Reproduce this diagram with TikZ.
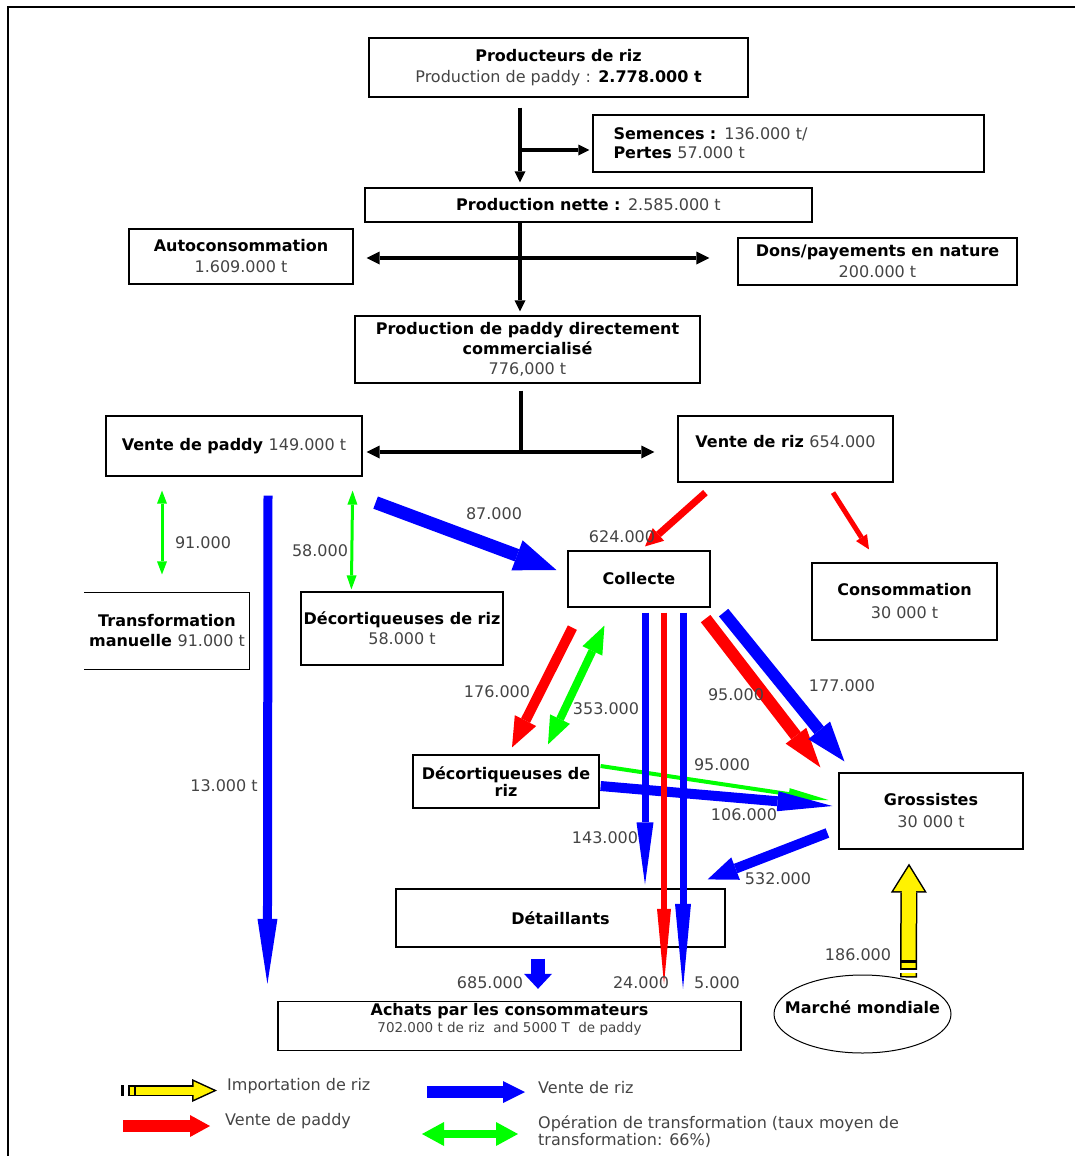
\documentclass[tikz,border=0pt]{standalone}
\usepackage{fontspec}
\setmainfont{DejaVu Sans}
\usetikzlibrary{arrows.meta,shapes.geometric,calc}
\definecolor{txtgray}{HTML}{444444}
\newcommand{\reg}[1]{{\mdseries\color{txtgray}#1}}
\tikzset{
  rbox/.style={draw, line width=1.2pt, align=center, inner sep=2pt,
    font=\fontsize{16}{21}\selectfont\bfseries},
  num/.style={text=txtgray, inner sep=0pt, font=\fontsize{16}{17}\selectfont},
  blk/.style={line width=3.5pt, ->, >={Triangle[length=11pt,width=11pt,line width=0pt]}},
  blk2/.style={line width=3.5pt, <->, >={Triangle[length=13pt,width=13pt,line width=0pt]}},
  flow/.style n args={3}{line width=#1, ->, >={Triangle[length=#2,width=#3,line width=0pt]}},
  twoway/.style n args={3}{line width=#1, <->, >={Triangle[length=#2,width=#3,line width=0pt]}},
  impout/.style n args={3}{draw=black, line width=#1, ->, >={Triangle[length=#2,width=#3,line width=0pt]}},
  impin/.style n args={3}{draw=yellow, line width=#1, ->, >={Triangle[length=#2,width=#3,line width=0pt]}},
}
\begin{document}
\begin{tikzpicture}[x=1pt,y=-1pt]
\useasboundingbox (0,0) rectangle (1075,1156);
\draw[line width=2pt] (8,1156) -- (8,7) -- (1075,7);

% boxes
\node[rbox, minimum width=379pt, minimum height=59pt] (prod) at (558.5,67.5)
  {Producteurs de riz\\\reg{Production de paddy :} 2.778.000 t};
\node[rbox, minimum width=391pt, minimum height=57pt, align=left, text width=350pt,
  font=\fontsize{16}{19}\selectfont\bfseries] (sem) at (788.5,143.5)
  {Semences : \reg{136.000 t/}\\Pertes \reg{57.000 t}};
\node[rbox, minimum width=447pt, minimum height=34pt] (pn) at (588.5,205)
  {Production nette : \reg{2.585.000 t}};
\node[rbox, minimum width=224pt, minimum height=55pt] (auto) at (241,256.5)
  {Autoconsommation\\\reg{1.609.000 t}};
\node[rbox, minimum width=279pt, minimum height=47pt] (dons) at (877.5,261.5)
  {Dons/payements en nature\\\reg{200.000 t}};
\node[rbox, minimum width=345pt, minimum height=67pt,
  font=\fontsize{16}{20}\selectfont\bfseries] (pdc) at (527.5,349.5)
  {Production de paddy directement\\commercialisé\\\reg{776,000 t}};
\node[rbox, minimum width=256pt, minimum height=60pt] (vp) at (234,446)
  {Vente de paddy \reg{149.000 t}};
\node[rbox, minimum width=215pt, minimum height=66pt, text depth=15pt] (vr) at (785.5,449)
  {Vente de riz \reg{654.000}};
\node[rbox, draw=none, minimum width=164pt, minimum height=76pt,
  font=\fontsize{16}{20}\selectfont\bfseries] (tm) at (167,631)
  {Transformation\\manuelle \reg{91.000 t}};
\draw[line width=1.2pt] (tm.north west) -- (tm.north east) -- (tm.south east) -- (tm.south west);
\node[rbox, minimum width=202pt, minimum height=73pt,
  font=\fontsize{16}{20}\selectfont\bfseries] (dec1) at (402,628.5)
  {Décortiqueuses de riz\\\reg{58.000 t}};
\node[rbox, minimum width=142pt, minimum height=56pt] (col) at (639,579) {Collecte};
\node[rbox, minimum width=185pt, minimum height=77pt,
  font=\fontsize{16}{23}\selectfont\bfseries] (cons) at (904.5,601.5)
  {Consommation\\\reg{30 000 t}};
\node[rbox, minimum width=186pt, minimum height=53pt,
  font=\fontsize{16}{17}\selectfont\bfseries] (dec2) at (506,781.5)
  {Décortiqueuses de\\riz};
\node[rbox, minimum width=184pt, minimum height=76pt,
  font=\fontsize{16}{22}\selectfont\bfseries] (gro) at (931,811)
  {Grossistes\\\reg{30 000 t}};
\node[rbox, minimum width=329pt, minimum height=58pt] (det) at (560.5,918) {Détaillants};
\node[rbox, minimum width=463pt, minimum height=48pt, text depth=16pt,
  font=\fontsize{16}{17}\selectfont\bfseries] (ach) at (509.5,1026)
  {Achats par les consommateurs\\{\fontsize{13.5}{17}\selectfont\reg{702.000 t de riz\ \ and 5000 T\ \ de paddy}}};
\node[draw, ellipse, line width=1pt, minimum width=177pt, minimum height=78pt,
  text depth=14pt, font=\fontsize{16}{17}\selectfont\bfseries] (mm) at (862.5,1014)
  {\makebox[0pt]{Marché mondiale}};

% black flows
\coordinate (j1) at (520,150);
\coordinate (j2) at (520,258);
\coordinate (j3) at (521,452);
\draw[blk, shorten <=10pt, shorten >=5pt] (j1 |- prod.south) -- (j1 |- pn.north);
\draw[blk, shorten >=3pt] (j1) -- (j1 -| sem.west);
\draw[blk, shorten >=4pt] (j2 |- pn.south) -- (j2 |- pdc.north);
\draw[blk2, shorten <=13pt, shorten >=28pt] (j2 -| auto.east) -- (j2 -| dons.west);
\draw[line width=3.5pt, shorten <=7pt] (j3 |- pdc.south) -- (j3);
\draw[blk2, shorten <=4pt, shorten >=23pt] (j3 -| vp.east) -- (j3 -| vr.west);

% transformation (green)
\draw[twoway={3pt}{13pt}{10pt}, green] ([xshift=-72pt,yshift=-14pt]vp.south) -- ([xshift=-5pt,yshift=18pt]tm.north);
\draw[twoway={3pt}{14pt}{10pt}, green] ([xshift=-10pt,yshift=-14pt]vp.south east) -- ([xshift=51pt,yshift=2pt]dec1.north west);
\draw[twoway={8pt}{28pt}{22pt}, green] ([xshift=37pt,yshift=-18pt]col.south west) -- ([xshift=42pt,yshift=10pt]dec2.north);
\draw[flow={4pt}{40pt}{12pt}, green] ([xshift=1pt,yshift=15.5pt]dec2.east) -- ([xshift=-10pt,yshift=11pt]gro.west);

% rice and paddy sales
\draw[flow={10pt}{55pt}{20pt}, blue] ([xshift=1pt,yshift=-4.5pt]dec2.east) -- ([xshift=-6pt,yshift=5pt]gro.west);
\draw[flow={9pt}{65pt}{20pt}, blue] ([xshift=34pt,yshift=-19pt]vp.south) -- ([xshift=-10pt,yshift=17pt]ach.north west);
\draw[flow={13pt}{42pt}{32pt}, blue] ([xshift=13pt,yshift=-26pt]vp.south east) -- ([xshift=-11pt,yshift=9pt]col.west);
\draw[flow={7pt}{18pt}{17pt}, red] ([xshift=28pt,yshift=-10pt]vr.south west) -- ([xshift=6pt,yshift=4pt]col.north);
\draw[flow={5pt}{14pt}{13pt}, red] ([xshift=47.5pt,yshift=-10pt]vr.south) -- ([xshift=-35.5pt,yshift=13pt]cons.north);
\draw[flow={10pt}{30pt}{24pt}, red] ([xshift=5pt,yshift=-20pt]col.south west) -- ([xshift=6pt,yshift=7pt]dec2.north);
\draw[flow={12pt}{40pt}{26pt}, red] ([xshift=-5pt,yshift=-11pt]col.south east) -- ([xshift=-18pt,yshift=5pt]gro.north west);
\draw[flow={12pt}{40pt}{28pt}, blue] ([xshift=13pt,yshift=-5pt]col.south east) -- ([xshift=6pt,yshift=11pt]gro.north west);
\draw[flow={10pt}{30pt}{24pt}, blue] ([xshift=-11pt,yshift=-22pt]gro.west) -- ([xshift=-18pt,yshift=9pt]det.north east);
\draw[flow={7pt}{62pt}{17pt}, blue] ([xshift=6pt,yshift=-5pt]col.south) -- ([xshift=84.5pt,yshift=4pt]det.north);
\draw[flow={6pt}{75pt}{14pt}, red] ([xshift=25pt,yshift=-5pt]col.south) -- ([xshift=154.5pt,yshift=17pt]ach.north);
\draw[flow={7pt}{85pt}{16pt}, blue] ([xshift=44pt,yshift=-5pt]col.south) -- ([xshift=173.5pt,yshift=12pt]ach.north);
\draw[flow={14pt}{15pt}{28pt}, blue] ([xshift=-22.5pt,yshift=-11pt]det.south) -- ([xshift=28.5pt,yshift=12pt]ach.north);

% import (yellow)
\coordinate (imp0) at ([xshift=46pt,yshift=-3pt]mm.north);
\coordinate (imp1) at ([xshift=-22pt,yshift=-14pt]gro.south);
\draw[impout={17pt}{29pt}{36pt}] (imp0) -- (imp1);
\draw[impin={14pt}{24.6pt}{30.6pt}, shorten <=1.5pt, shorten >=2.9pt] (imp0) -- (imp1);
\fill[white] ($(imp0)+(-9,-5)$) rectangle ($(imp0)+(9,-7.5)$);
\draw[line width=2pt] ($(imp0)+(-8.5,-8.5)$) -- ($(imp0)+(8.5,-8.5)$);
\draw[line width=3pt] ($(imp0)+(-8.5,-16.5)$) -- ($(imp0)+(8.5,-16.5)$);

% labels
\node[num] (n91) at (203,543) {91.000};
\node[num] (n58) at (320,551) {58.000};
\node[num] (n13) at (224,786) {13.000 t};
\node[num] (n87) at (494,514) {87.000};
\node[num] (n624) at (622,537) {624.000};
\node[num] (n176) at (497,692) {176.000};
\node[num] (n353) at (606,709) {353.000};
\node[num] (n95a) at (736,695) {95.000};
\node[num] (n177) at (842,686) {177.000};
\node[num] (n95b) at (722,765) {95.000};
\node[num] (n106) at (744,815) {106.000};
\node[num] (n143) at (605,838) {143.000};
\node[num] (n532) at (778,879) {532.000};
\node[num] (n186) at (858,955) {186.000};
\node[num] (n685) at (490,983) {685.000};
\node[num] (n24) at (641,983) {24.000};
\node[num] (n5) at (717,983) {5.000};

% legend
\node[num, anchor=west] (limp) at (227,1086) {Importation de riz};
\node[num, anchor=west] (lpad) at (225,1121) {Vente de paddy};
\node[num, anchor=west] (lriz) at (538,1088) {Vente de riz};
\node[num, anchor=west, align=left] (ltr) at (538,1131.5)
  {Opération de transformation (taux moyen de\\transformation: 66\%)};
\coordinate (li0) at ([xshift=-99pt,yshift=-4.5pt]limp.west);
\coordinate (li1) at ([xshift=-10pt,yshift=-4.5pt]limp.west);
\draw[impout={11pt}{25pt}{23pt}] (li0) -- (li1);
\draw[impin={8pt}{19.9pt}{18.3pt}, shorten <=1.5pt, shorten >=3.6pt] (li0) -- (li1);
\draw[line width=1.5pt] ($(li0)+(7,-5.5)$) -- ($(li0)+(7,5.5)$);
\draw[line width=3pt] ($(li0)+(-5.5,-5.5)$) -- ($(li0)+(-5.5,5.5)$);
\draw[flow={12pt}{20pt}{22pt}, red] ([xshift=-102pt,yshift=-5pt]lpad.west) -- ([xshift=-15pt,yshift=-5pt]lpad.west);
\draw[flow={12pt}{22pt}{22pt}, blue] ([xshift=-111pt,yshift=-4pt]lriz.west) -- ([xshift=-13pt,yshift=-4pt]lriz.west);
\draw[twoway={8pt}{22pt}{24pt}, green] ([xshift=-116pt,yshift=-2.5pt]ltr.west) -- ([xshift=-20pt,yshift=-2.5pt]ltr.west);
\end{tikzpicture}
\end{document}
